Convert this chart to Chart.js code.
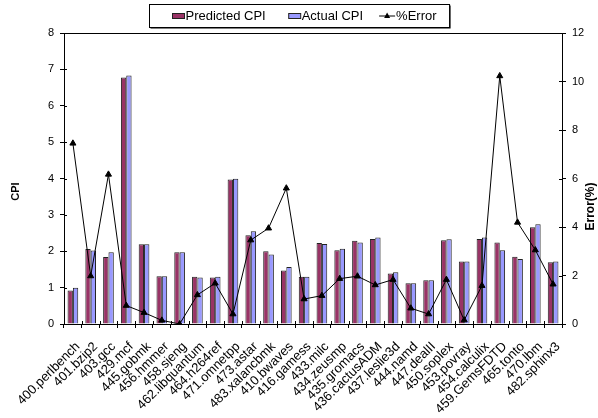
<!DOCTYPE html>
<html>
<head>
<meta charset="utf-8">
<script src="https://cdn.jsdelivr.net/npm/chart.js@4/dist/chart.umd.min.js"></script>
<style>
  html, body { margin: 0; padding: 0; background: #fff; }
  #wrap { width: 598px; height: 418px; }
</style>
</head>
<body>
<div id="wrap"><canvas id="c" width="598" height="418"></canvas></div>
<script>
// SPEC CPU2006 benchmarks: predicted vs. measured CPI and the prediction error
const benchmarks = [
  '400.perlbench', '401.bzip2', '403.gcc', '429.mcf', '445.gobmk', '456.hmmer',
  '458.sjeng', '462.libquantum', '464.h264ref', '471.omnetpp', '473.astar',
  '483.xalancbmk', '410.bwaves', '416.gamess', '433.milc', '434.zeusmp',
  '435.gromacs', '436.cactusADM', '437.leslie3d', '444.namd', '447.dealII',
  '450.soplex', '453.povray', '454.calculix', '459.GemsFDTD', '465.tonto',
  '470.lbm', '482.sphinx3'
];
const predictedCPI = [0.92, 2.06, 1.84, 6.78, 2.19, 1.31, 1.97, 1.30, 1.28, 3.97, 2.44, 2.00, 1.47, 1.30,
                      2.23, 2.03, 2.29, 2.34, 1.39, 1.12, 1.20, 2.30, 1.72, 2.34, 2.24, 1.85, 2.66, 1.70];
const actualCPI    = [1.00, 2.02, 1.97, 6.83, 2.19, 1.31, 1.97, 1.28, 1.30, 3.99, 2.55, 1.91, 1.57, 1.30,
                      2.20, 2.07, 2.24, 2.38, 1.42, 1.12, 1.20, 2.33, 1.72, 2.38, 2.03, 1.79, 2.74, 1.72];
const errorPct     = [7.45, 1.98, 6.17, 0.76, 0.47, 0.15, 0.00, 1.20, 1.68, 0.41, 3.46, 3.95, 5.60, 1.03,
                      1.17, 1.87, 1.97, 1.61, 1.83, 0.65, 0.41, 1.83, 0.16, 1.58, 10.23, 4.19, 3.05, 1.64];
const cpiTicks = [0, 1, 2, 3, 4, 5, 6, 7, 8];
const errorTicks = [0, 2, 4, 6, 8, 10, 12];

const FONT = "'Liberation Sans', Arial, sans-serif";

// Plot frame, inner halves of the tick marks, rotated axis titles
const framePlugin = {
  id: 'frame',
  afterDatasetsDraw(chart) {
    const { ctx, chartArea: a, scales } = chart;
    ctx.save();
    ctx.strokeStyle = '#000';
    ctx.lineWidth = 1;
    ctx.beginPath();
    ctx.moveTo(a.left, a.top + 0.5); ctx.lineTo(a.right, a.top + 0.5);
    ctx.stroke();
    ctx.beginPath();
    cpiTicks.forEach(v => {
      const y = Math.round(scales.y.getPixelForValue(v)) + 0.5;
      ctx.moveTo(a.left, y); ctx.lineTo(a.left + 3, y);
    });
    errorTicks.forEach(v => {
      const y = Math.round(scales.y1.getPixelForValue(v)) + 0.5;
      ctx.moveTo(a.right, y); ctx.lineTo(a.right - 3, y);
    });
    const xs = scales.x;
    for (let i = 0; i <= benchmarks.length; i++) {
      const x = Math.round(xs.getPixelForValue(i - 0.5)) + 0.5;
      ctx.moveTo(x, a.bottom); ctx.lineTo(x, a.bottom - 3);
    }
    ctx.stroke();

    ctx.fillStyle = '#000';
    ctx.textAlign = 'center';
    ctx.textBaseline = 'middle';
    const mid = (a.top + a.bottom) / 2;
    ctx.save();
    ctx.font = 'bold 11px ' + FONT;
    ctx.translate(16, mid + 13);
    ctx.rotate(-Math.PI / 2);
    ctx.fillText('CPI', 0, 0);
    ctx.restore();
    ctx.save();
    ctx.font = 'bold 12px ' + FONT;
    ctx.translate(591, mid + 28);
    ctx.rotate(-Math.PI / 2);
    ctx.fillText('Error(%)', 0, 0);
    ctx.restore();
    ctx.restore();
  },
  afterDraw(chart) {
    // boxed legend across the top
    const { ctx } = chart;
    const ds = chart.data.datasets;
    ctx.save();
    ctx.font = '13px ' + FONT;
    const symW = [12, 12, 16];
    const gaps = [23, 16];
    let total = 23 + 13;
    ds.forEach((d, i) => {
      total += symW[i] + 1 + ctx.measureText(d.label).width;
      if (i < gaps.length) total += gaps[i];
    });
    const left = Math.round((598 - total) / 2) + 0.5;
    const top = 4.5, h = 23;
    ctx.fillStyle = '#000';
    ctx.fillRect(left + 1, top + 1, total, h);
    ctx.fillStyle = '#fff';
    ctx.fillRect(left, top, total, h);
    ctx.strokeStyle = '#000';
    ctx.lineWidth = 1;
    ctx.strokeRect(left, top, total, h);
    const cy = top + h / 2;
    let x = left + 23;
    ds.forEach((d, i) => {
      if (d.type === 'line') {
        ctx.beginPath();
        ctx.moveTo(x, cy); ctx.lineTo(x + symW[i], cy);
        ctx.strokeStyle = '#000';
        ctx.stroke();
        const tx = x + symW[i] / 2;
        ctx.beginPath();
        ctx.moveTo(tx, cy - 3.5); ctx.lineTo(tx + 3, cy + 2); ctx.lineTo(tx - 3, cy + 2);
        ctx.closePath();
        ctx.fillStyle = '#000';
        ctx.fill();
      } else {
        ctx.fillStyle = d.backgroundColor;
        ctx.fillRect(x, cy - 2.5, symW[i], 5);
        ctx.strokeStyle = '#222';
        ctx.strokeRect(x, cy - 2.5, symW[i], 5);
      }
      x += symW[i] + 1;
      ctx.fillStyle = '#000';
      ctx.textAlign = 'left';
      ctx.textBaseline = 'middle';
      ctx.fillText(d.label, x, cy + 0.5);
      x += ctx.measureText(d.label).width;
      if (i < gaps.length) x += gaps[i];
    });
    ctx.restore();
  }
};

new Chart(document.getElementById('c'), {
  data: {
    labels: benchmarks,
    datasets: [
      {
        type: 'bar', label: 'Predicted CPI', data: predictedCPI, yAxisID: 'y',
        backgroundColor: '#993366', borderColor: '#222', borderWidth: 1,
        categoryPercentage: 0.6, barPercentage: 1.0, order: 2
      },
      {
        type: 'bar', label: 'Actual CPI', data: actualCPI, yAxisID: 'y',
        backgroundColor: '#9999FF', borderColor: '#222', borderWidth: 1,
        categoryPercentage: 0.6, barPercentage: 1.0, order: 2
      },
      {
        type: 'line', label: '%Error', data: errorPct, yAxisID: 'y1',
        borderColor: '#000', borderWidth: 1, tension: 0, fill: false,
        pointStyle: 'triangle', pointRadius: 3.5, pointBackgroundColor: '#000',
        pointBorderColor: '#000', pointBorderWidth: 1, order: 1
      }
    ]
  },
  options: {
    responsive: false,
    animation: false,
    events: [],
    layout: { padding: { top: 33, left: 0, right: 0, bottom: 0 } },
    plugins: { legend: { display: false }, tooltip: { enabled: false } },
    scales: {
      x: {
        offset: true,
        grid: { offset: true, drawOnChartArea: false, drawTicks: true, tickLength: 4, color: '#000' },
        border: { display: true, color: '#000', width: 1 },
        ticks: {
          autoSkip: false, maxRotation: 45, minRotation: 45, padding: 11, labelOffset: 5,
          color: '#000', font: { family: FONT, size: 13 }
        },
        afterFit(s) { s.height = 94; }
      },
      y: {
        position: 'left', min: 0, max: 8,
        grid: { drawOnChartArea: false, drawTicks: true, tickLength: 4, color: '#000' },
        border: { display: true, color: '#000', width: 1 },
        ticks: {
          stepSize: 1, padding: 6, color: '#000', font: { family: FONT, size: 11 },
          callback: v => cpiTicks.includes(v) ? String(v) : null
        },
        afterFit(s) { s.width = 64; }
      },
      y1: {
        position: 'right', min: 0, max: 12,
        grid: { drawOnChartArea: false, drawTicks: true, tickLength: 4, color: '#000' },
        border: { display: true, color: '#000', width: 1 },
        ticks: {
          stepSize: 2, padding: 6, color: '#000', font: { family: FONT, size: 11 },
          callback: v => errorTicks.includes(v) ? String(v) : null
        },
        afterFit(s) { s.width = 36; }
      }
    }
  },
  plugins: [framePlugin]
});
</script>
</body>
</html>
